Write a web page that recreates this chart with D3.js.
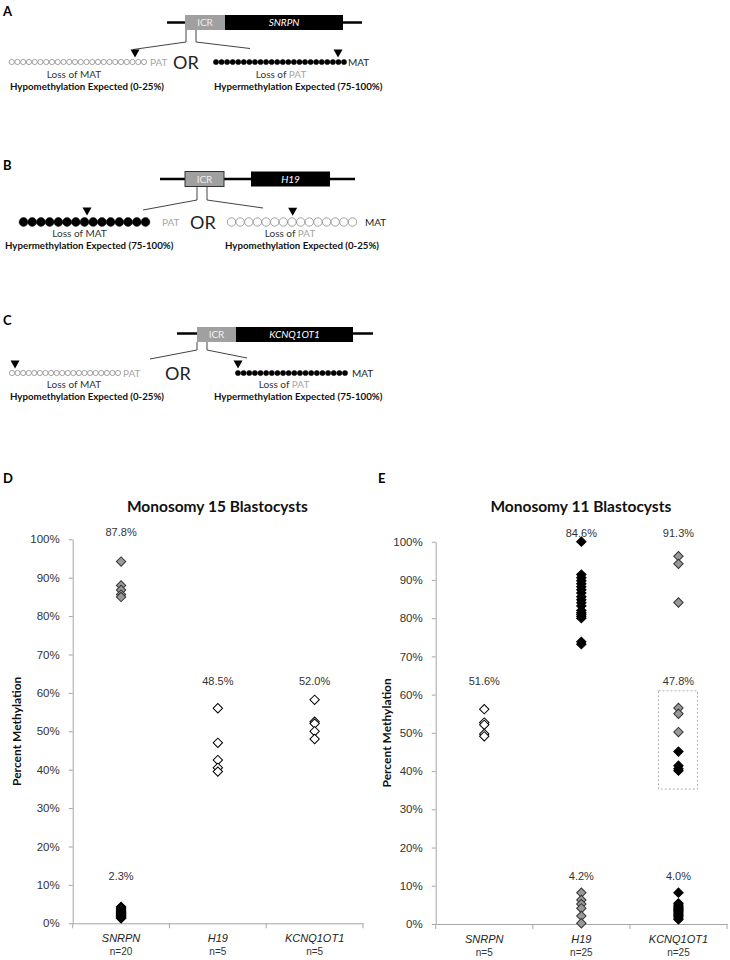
<!DOCTYPE html>
<html>
<head>
<meta charset="utf-8">
<script src="https://cdn.jsdelivr.net/npm/d3@7"></script>
<style>
  body { margin: 0; background: #fff; }
  svg { display: block; font-family: Lato, "Open Sans", sans-serif; }
</style>
</head>
<body>
<script>
// ---------- data ----------
var genes = ['SNRPN', 'H19', 'KCNQ1OT1'];
var yTicks = [0, 10, 20, 30, 40, 50, 60, 70, 80, 90, 100];

// D: monosomy 15 blastocysts
var m15Counts = ['n=20', 'n=5', 'n=5'];
var m15SnrpnHigh = [94.2, 88.0, 86.8, 85.6, 85.0];
var m15SnrpnLow = [4.3, 4.0, 3.7, 3.4, 3.1, 2.9, 2.7, 2.5, 2.3, 2.1, 1.9, 1.7, 1.5, 1.4, 1.3];
var m15H19 = [56.0, 47.0, 42.5, 40.5, 39.5];
var m15Kcnq = [58.2, 52.5, 52.0, 50.0, 48.0];
var m15MeanGene = ['SNRPN', 'SNRPN', 'H19', 'KCNQ1OT1'];
var m15MeanText = ['87.8%', '2.3%', '48.5%', '52.0%'];
var m15MeanLevel = [102, 12.3, 63.2, 63.2];

// E: monosomy 11 blastocysts
var m11Counts = ['n=5', 'n=25', 'n=25'];
var m11Snrpn = [56.2, 52.7, 52.1, 49.7, 49.1];
var m11H19High = [100, 91.4, 90.6, 89.8, 89.0, 88.2, 87.4, 86.6, 85.6, 84.8, 84.0, 83.2, 82.0, 81.4, 81.0, 80.5, 80.0, 73.8, 73.2];
var m11H19Low = [8.2, 6.3, 5.2, 4.1, 2.1, 0.2];
var m11KcnqHigh = [96.2, 94.2, 84.1];
var m11KcnqMidGray = [56.5, 55.0, 50.2];
var m11KcnqMidBlack = [45.1, 41.4, 40.6, 40.1];
var m11KcnqLow = [8.2, 5.4, 5.0, 4.7, 4.4, 4.1, 3.8, 3.5, 3.2, 2.9, 2.6, 2.3, 2.0, 1.6, 1.2];
var m11MeanGene = ['SNRPN', 'H19', 'KCNQ1OT1', 'KCNQ1OT1', 'H19', 'KCNQ1OT1'];
var m11MeanText = ['51.6%', '84.6%', '91.3%', '47.8%', '4.2%', '4.0%'];
var m11MeanLevel = [63.5, 102.3, 102.3, 63.5, 12.5, 12.5];
var m11BoxRange = [35.3, 61.0];

// ---------- page ----------
var width = 730, height = 960;
var svg = d3.select('body').append('svg')
  .attr('width', width)
  .attr('height', height);

var fills = { gray: '#999999', black: '#000000', open: '#ffffff' };
var diamond = d3.symbol().type(d3.symbolSquare).size(44);

// ---------- schematic panels A-C ----------
function drawScheme(s) {
  var g = svg.append('g');

  g.append('text').attr('x', 3).attr('y', s.labelY)
    .attr('font-size', 13).attr('font-weight', 'bold').text(s.label);

  g.append('line')
    .attr('x1', s.lineX[0]).attr('x2', s.lineX[1])
    .attr('y1', s.lineY).attr('y2', s.lineY)
    .attr('stroke', '#000').attr('stroke-width', 2.5);

  g.append('rect')
    .attr('x', s.icr[0]).attr('y', s.boxY[0])
    .attr('width', s.icr[1] - s.icr[0]).attr('height', s.boxY[1] - s.boxY[0])
    .attr('fill', '#a0a0a0')
    .attr('stroke', s.icrBorder ? '#333' : 'none').attr('stroke-width', 1);
  g.append('rect')
    .attr('x', s.gene[0]).attr('y', s.boxY[0])
    .attr('width', s.gene[1] - s.gene[0]).attr('height', s.boxY[1] - s.boxY[0])
    .attr('fill', '#000');

  var midY = (s.boxY[0] + s.boxY[1]) / 2 + 3.5;
  g.append('text').attr('x', (s.icr[0] + s.icr[1]) / 2).attr('y', midY)
    .attr('text-anchor', 'middle').attr('font-size', 10).attr('fill', '#eee').text('ICR');
  g.append('text').attr('x', (s.gene[0] + s.gene[1]) / 2).attr('y', midY)
    .attr('text-anchor', 'middle').attr('font-size', 10).attr('font-style', 'italic')
    .attr('fill', '#fff').text(s.geneName);

  // zoom lines out of the ICR
  s.zoom.xs.forEach(function(zx, i) {
    g.append('path')
      .attr('d', 'M' + zx + ',' + s.zoom.y0 + 'V' + s.zoom.y1 + 'L' + s.zoom.ends[i][0] + ',' + s.zoom.ends[i][1])
      .attr('fill', 'none').attr('stroke', '#444').attr('stroke-width', 1);
  });

  [s.left, s.right].forEach(function(row) {
    var cx = d3.scaleLinear().domain([0, row.n - 1]).range([row.x0, row.x1]);
    g.append('g').selectAll('circle')
      .data(d3.range(row.n))
      .join('circle')
        .attr('cx', function(d) { return cx(d); })
        .attr('cy', s.rowY)
        .attr('r', row.r)
        .attr('fill', row.filled ? '#000' : '#fff')
        .attr('stroke', row.filled ? '#000' : '#8a8a8a')
        .attr('stroke-width', row.filled ? 0.5 : 0.8);

    var ty = s.rowY - row.r - 2;
    g.append('path')
      .attr('d', 'M' + (row.tri - 4.5) + ',' + (ty - 8) + 'L' + (row.tri + 4.5) + ',' + (ty - 8) + 'L' + row.tri + ',' + ty + 'Z')
      .attr('fill', '#000');

    g.append('text').attr('x', row.tagX).attr('y', s.rowY + 3.5)
      .attr('font-size', 10)
      .attr('fill', row.tag === 'PAT' ? '#a6a6a6' : '#222')
      .text(row.tag);
  });

  g.append('text').attr('x', s.orX).attr('y', s.rowY + 6.5)
    .attr('font-size', 18).attr('fill', '#222').text('OR');

  var lossL = g.append('text').attr('x', s.lossL).attr('y', s.lossY)
    .attr('text-anchor', 'middle').attr('font-size', 10).attr('fill', '#333');
  lossL.append('tspan').text('Loss of MAT');
  var lossR = g.append('text').attr('x', s.lossR).attr('y', s.lossY)
    .attr('text-anchor', 'middle').attr('font-size', 10).attr('fill', '#333');
  lossR.append('tspan').text('Loss of ');
  lossR.append('tspan').attr('fill', '#a6a6a6').text('PAT');

  g.append('text').attr('x', s.boldL.x).attr('y', s.boldY)
    .attr('font-size', 9.7).attr('font-weight', 'bold').attr('fill', '#111').text(s.boldL.text);
  g.append('text').attr('x', s.boldR.x).attr('y', s.boldY)
    .attr('font-size', 9.7).attr('font-weight', 'bold').attr('fill', '#111').text(s.boldR.text);
}

var hypo = 'Hypomethylation Expected (0-25%)';
var hyper = 'Hypermethylation Expected (75-100%)';

drawScheme({
  label: 'A', labelY: 16,
  lineY: 22.5, lineX: [167, 362],
  icr: [185, 225], boxY: [15, 30], gene: [225, 343], geneName: 'SNRPN', icrBorder: false,
  zoom: { xs: [186, 196], y0: 30, y1: 42, ends: [[133, 49.5], [250, 48.5]] },
  rowY: 62,
  left: { x0: 11.7, x1: 144, n: 24, r: 2.6, filled: false, tri: 135, tag: 'PAT', tagX: 150 },
  right: { x0: 216, x1: 344, n: 24, r: 2.6, filled: true, tri: 338, tag: 'MAT', tagX: 348 },
  orX: 173,
  lossY: 78, lossL: 74, lossR: 281,
  boldY: 90, boldL: { x: 10, text: hypo }, boldR: { x: 214, text: hyper }
});

drawScheme({
  label: 'B', labelY: 170,
  lineY: 179, lineX: [160, 355],
  icr: [185, 224], boxY: [171.5, 186.5], gene: [251, 330], geneName: 'H19', icrBorder: true,
  zoom: { xs: [197, 207], y0: 186.5, y1: 200, ends: [[143, 210], [263, 208]] },
  rowY: 222,
  left: { x0: 23.5, x1: 145.5, n: 15, r: 4.4, filled: true, tri: 87, tag: 'PAT', tagX: 162 },
  right: { x0: 231.5, x1: 352.5, n: 15, r: 4.2, filled: false, tri: 292.7, tag: 'MAT', tagX: 365 },
  orX: 190,
  lossY: 237, lossL: 79.5, lossR: 290,
  boldY: 249, boldL: { x: 5, text: hyper }, boldR: { x: 225, text: hypo }
});

drawScheme({
  label: 'C', labelY: 325,
  lineY: 333.5, lineX: [177, 373],
  icr: [197, 236], boxY: [327, 342], gene: [236, 353], geneName: 'KCNQ1OT1', icrBorder: false,
  zoom: { xs: [197, 207], y0: 342, y1: 350, ends: [[150, 359], [247, 358]] },
  rowY: 373,
  left: { x0: 12, x1: 118, n: 20, r: 2.6, filled: false, tri: 15, tag: 'PAT', tagX: 123 },
  right: { x0: 238, x1: 345, n: 20, r: 2.6, filled: true, tri: 238, tag: 'MAT', tagX: 352 },
  orX: 165,
  lossY: 388, lossL: 74, lossR: 284,
  boldY: 400, boldL: { x: 10, text: hypo }, boldR: { x: 214, text: hyper }
});

// ---------- scatter panels D-E ----------
function drawChart(c) {
  var g = svg.append('g');
  var x = d3.scaleBand().domain(genes).range([c.left, c.right]);
  var y = d3.scaleLinear().domain([0, 100]).range([c.bottom, c.top]);
  var mid = function(d) { return x(d) + x.bandwidth() / 2; };

  g.append('text').attr('x', c.letterX).attr('y', 483)
    .attr('font-size', 13).attr('font-weight', 'bold').text(c.letter);

  g.append('text').attr('x', (c.left + c.right) / 2 - 0.5).attr('y', 511.5)
    .attr('text-anchor', 'middle').attr('font-size', 15.5).attr('font-weight', 'bold')
    .attr('fill', '#111').text(c.title);

  // y axis
  var yAxis = g.append('g')
    .attr('transform', 'translate(' + c.left + ',0)')
    .call(d3.axisLeft(y).tickValues(yTicks).tickFormat(function(d) { return d + '%'; })
      .tickSize(4).tickSizeOuter(0).tickPadding(9));
  yAxis.select('.domain').attr('stroke', '#a6a6a6');
  yAxis.selectAll('.tick line').attr('stroke', '#a6a6a6');
  yAxis.selectAll('.tick text')
    .attr('font-family', '"Liberation Sans", Arial, sans-serif')
    .attr('font-size', 11.5).attr('fill', '#333');

  // x axis: line plus ticks between categories
  var xAxis = g.append('g')
    .attr('transform', 'translate(0,' + c.bottom + ')')
    .call(d3.axisBottom(x).tickSize(0).tickSizeOuter(0).tickFormat(''));
  xAxis.select('.domain').attr('stroke', '#a6a6a6');
  g.append('g').selectAll('line')
    .data(genes.slice(1).map(function(d) { return x(d); }).concat([c.left, c.right]))
    .join('line')
      .attr('x1', function(d) { return d; }).attr('x2', function(d) { return d; })
      .attr('y1', c.bottom).attr('y2', c.bottom + 5)
      .attr('stroke', '#a6a6a6');

  g.append('g').selectAll('text')
    .data(genes)
    .join('text')
      .attr('x', mid).attr('y', c.bottom + 19)
      .attr('text-anchor', 'middle')
      .attr('font-family', '"Liberation Sans", Arial, sans-serif')
      .attr('font-size', 11).attr('font-style', 'italic').attr('fill', '#222')
      .text(function(d) { return d; });
  g.append('g').selectAll('text')
    .data(c.counts)
    .join('text')
      .attr('x', function(d, i) { return mid(genes[i]); }).attr('y', c.bottom + 31.5)
      .attr('text-anchor', 'middle')
      .attr('font-family', '"Liberation Sans", Arial, sans-serif')
      .attr('font-size', 10).attr('fill', '#333')
      .text(function(d) { return d; });

  g.append('text')
    .attr('transform', 'translate(' + c.yTitleX + ',' + ((c.top + c.bottom) / 2) + ') rotate(-90)')
    .attr('text-anchor', 'middle').attr('font-size', 12).attr('font-weight', 'bold')
    .attr('fill', '#111').text('Percent Methylation');

  if (c.box) {
    g.append('rect')
      .attr('x', mid(c.box.gene) - 20).attr('y', y(c.box.range[1]))
      .attr('width', 39).attr('height', y(c.box.range[0]) - y(c.box.range[1]))
      .attr('fill', 'none').attr('stroke', '#999').attr('stroke-width', 0.8)
      .attr('stroke-dasharray', '2,2');
  }

  c.groups.forEach(function(grp) {
    g.append('g').selectAll('path')
      .data(grp.values)
      .join('path')
        .attr('d', diamond)
        .attr('transform', function(d) { return 'translate(' + mid(grp.gene) + ',' + y(d) + ') rotate(45)'; })
        .attr('fill', fills[grp.kind])
        .attr('stroke', grp.kind === 'gray' ? '#333' : '#000')
        .attr('stroke-width', 1);
  });

  g.append('g').selectAll('text')
    .data(c.meanText)
    .join('text')
      .attr('x', function(d, i) { return mid(c.meanGene[i]); })
      .attr('y', function(d, i) { return y(c.meanLevel[i]) + 4; })
      .attr('text-anchor', 'middle')
      .attr('font-family', '"Liberation Sans", Arial, sans-serif')
      .attr('font-size', 11).attr('fill', '#333')
      .text(function(d) { return d; });
}

drawChart({
  letter: 'D', letterX: 3, title: 'Monosomy 15 Blastocysts',
  left: 72.7, right: 363, top: 539.3, bottom: 923.3, yTitleX: 21,
  counts: m15Counts,
  groups: [
    { gene: 'SNRPN', values: m15SnrpnHigh, kind: 'gray' },
    { gene: 'SNRPN', values: m15SnrpnLow, kind: 'black' },
    { gene: 'H19', values: m15H19, kind: 'open' },
    { gene: 'KCNQ1OT1', values: m15Kcnq, kind: 'open' }
  ],
  meanGene: m15MeanGene, meanText: m15MeanText, meanLevel: m15MeanLevel
});

drawChart({
  letter: 'E', letterX: 378, title: 'Monosomy 11 Blastocysts',
  left: 435.7, right: 727, top: 541.7, bottom: 924, yTitleX: 391,
  counts: m11Counts,
  groups: [
    { gene: 'SNRPN', values: m11Snrpn, kind: 'open' },
    { gene: 'H19', values: m11H19High, kind: 'black' },
    { gene: 'H19', values: m11H19Low, kind: 'gray' },
    { gene: 'KCNQ1OT1', values: m11KcnqHigh, kind: 'gray' },
    { gene: 'KCNQ1OT1', values: m11KcnqMidGray, kind: 'gray' },
    { gene: 'KCNQ1OT1', values: m11KcnqMidBlack, kind: 'black' },
    { gene: 'KCNQ1OT1', values: m11KcnqLow, kind: 'black' }
  ],
  box: { gene: 'KCNQ1OT1', range: m11BoxRange },
  meanGene: m11MeanGene, meanText: m11MeanText, meanLevel: m11MeanLevel
});
</script>
</body>
</html>
